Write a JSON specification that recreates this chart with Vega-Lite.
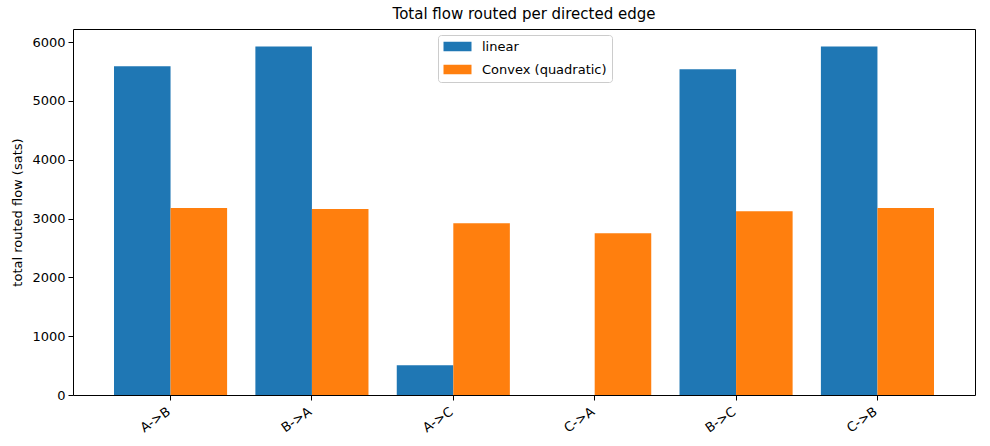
{
  "$schema": "https://vega.github.io/schema/vega-lite/v6.json",
  "width": 902,
  "height": 366,
  "autosize": {"type": "none"},
  "padding": {"left": 73, "top": 29, "right": 15, "bottom": 51},
  "background": "white",
  "title": {"text": "Total flow routed per directed edge", "font": "DejaVu Sans", "fontSize": 15, "fontWeight": "normal", "color": "black", "anchor": "middle", "offset": 7},
  "config": {
    "view": {"stroke": "black", "strokeWidth": 1},
    "font": "DejaVu Sans"
  },
  "data": {
    "values": [
      {"edge": "A->B", "method": "linear", "flow": 5586},
      {"edge": "A->B", "method": "Convex (quadratic)", "flow": 3180},
      {"edge": "B->A", "method": "linear", "flow": 5925},
      {"edge": "B->A", "method": "Convex (quadratic)", "flow": 3163},
      {"edge": "A->C", "method": "linear", "flow": 504},
      {"edge": "A->C", "method": "Convex (quadratic)", "flow": 2920},
      {"edge": "C->A", "method": "linear", "flow": 0},
      {"edge": "C->A", "method": "Convex (quadratic)", "flow": 2750},
      {"edge": "B->C", "method": "linear", "flow": 5535},
      {"edge": "B->C", "method": "Convex (quadratic)", "flow": 3124},
      {"edge": "C->B", "method": "linear", "flow": 5925},
      {"edge": "C->B", "method": "Convex (quadratic)", "flow": 3180}
    ]
  },
  "mark": {"type": "bar"},
  "encoding": {
    "x": {
      "field": "edge", "type": "nominal",
      "sort": ["A->B", "B->A", "A->C", "C->A", "B->C", "C->B"],
      "scale": {"paddingInner": 0.2, "paddingOuter": 0.29},
      "axis": {
        "title": null, "labelAngle": -35, "labelAlign": "right", "labelBaseline": "top",
        "labelFontSize": 13, "labelColor": "black", "labelFont": "DejaVu Sans",
        "domain": false, "tickColor": "black", "tickSize": 5, "labelPadding": 5, "labelOffset": -5
      }
    },
    "xOffset": {
      "field": "method", "type": "nominal",
      "sort": ["linear", "Convex (quadratic)"],
      "scale": {"paddingInner": 0, "paddingOuter": 0}
    },
    "y": {
      "field": "flow", "type": "quantitative",
      "scale": {"domain": [0, 6221], "nice": false, "zero": true},
      "axis": {
        "title": "total routed flow (sats)", "titleFontSize": 13, "titleFontWeight": "normal", "titleColor": "black", "titleFont": "DejaVu Sans",
        "values": [0, 1000, 2000, 3000, 4000, 5000, 6000], "format": "d",
        "labelFontSize": 13, "labelColor": "black", "labelFont": "DejaVu Sans",
        "grid": false, "domain": false, "tickColor": "black", "tickSize": 5, "labelPadding": 3, "titlePadding": 7
      }
    },
    "color": {
      "field": "method", "type": "nominal",
      "scale": {"domain": ["linear", "Convex (quadratic)"], "range": ["#1f77b4", "#ff7f0e"]},
      "legend": {
        "title": null, "orient": "none", "legendX": 365, "legendY": 6,
        "symbolType": "M-2.8,-0.95L2.8,-0.95L2.8,0.95L-2.8,0.95Z", "symbolSize": 100, "symbolOffset": 8,
        "symbolStrokeWidth": 0, "labelFontSize": 13, "labelColor": "black", "labelFont": "DejaVu Sans",
        "rowPadding": 9, "labelOffset": 18,
        "fillColor": "rgba(255,255,255,0.8)", "strokeColor": "#cccccc", "cornerRadius": 3, "padding": 5
      }
    }
  }
}
